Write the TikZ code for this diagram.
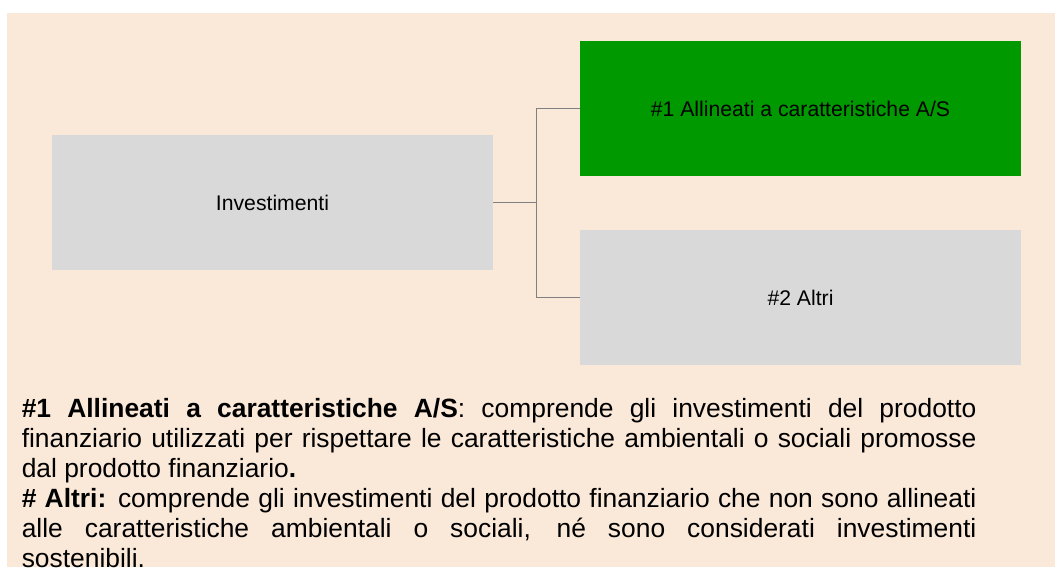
\documentclass[tikz,border=0pt]{standalone}
\usepackage{fontspec}
\setmainfont{Liberation Sans}
\definecolor{beige}{HTML}{FAE8D8}
\definecolor{boxgray}{HTML}{D9D9D9}
\definecolor{boxgreen}{HTML}{009900}
\definecolor{linegray}{HTML}{808080}
\begin{document}
\begin{tikzpicture}[x=0.75pt,y=-0.75pt,
  box/.style={rectangle, draw=none, minimum width=330.75pt, minimum height=101.25pt, inner sep=0pt, align=center, font=\fontsize{15.9pt}{19pt}\selectfont, text=black},
  conn/.style={draw=linegray, line width=1pt}]
\useasboundingbox (0,0) rectangle (1055,567);
\fill[white] (0,0) rectangle (1055,567);
\fill[beige] (7,13) rectangle (1055,567);
\node[box, fill=boxgray] (inv) at (272.5,202.5) {Investimenti};
\node[box, fill=boxgreen] (g1) at (800.5,108.5) {\#1 Allineati a caratteristiche A/S};
\node[box, fill=boxgray] (g2) at (800.5,297.5) {\#2 Altri};
\coordinate (spine) at (536.7,202.5);
\draw[conn] (inv.east) -- (spine) |- (g1.west);
\draw[conn] (spine) |- (g2.west);
\node[anchor=north west, inner sep=0pt, text width=716pt, align=justify,
  font=\fontsize{19.8pt}{22.5pt}\selectfont] (txt) at (21.5,398) {%
\tolerance=10000\hyphenpenalty=10000
\textbf{\#1 Allineati a caratteristiche A/S}: comprende gli investimenti del prodotto\linebreak
finanziario utilizzati per rispettare le caratteristiche ambientali o sociali promosse\linebreak
dal prodotto finanziario\textbf{.}\par
\textbf{\# Altri:} comprende gli investimenti del prodotto finanziario che non sono allineati\linebreak
alle caratteristiche ambientali o sociali, né sono considerati investimenti\linebreak
sostenibili.};
\end{tikzpicture}
\end{document}
